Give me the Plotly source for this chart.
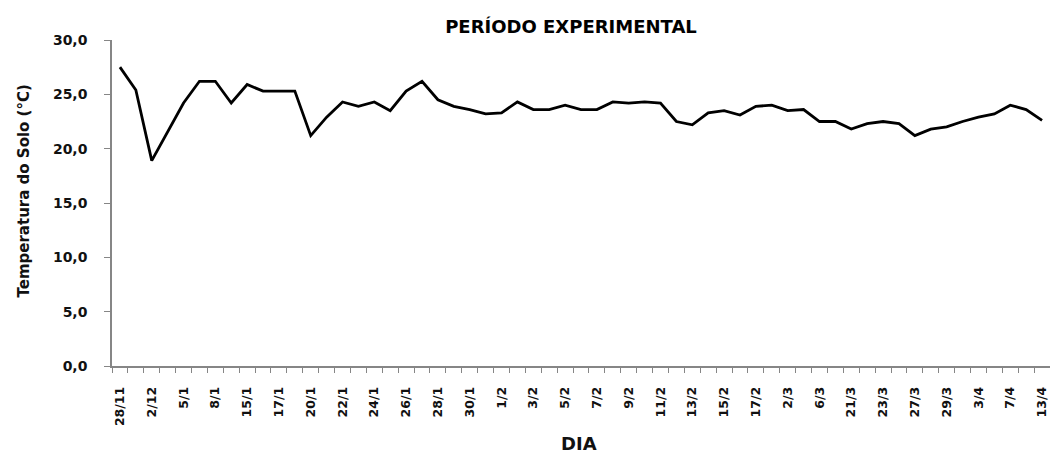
import plotly.graph_objects as go

# Soil temperature (°C) per observation day
temperatures = [27.5, 25.4, 18.9, 21.6, 24.2, 26.2, 26.2, 24.2, 25.9, 25.3, 25.3, 25.3,
                21.2, 22.9, 24.3, 23.9, 24.3, 23.5, 25.3, 26.2, 24.5, 23.9, 23.6, 23.2,
                23.3, 24.3, 23.6, 23.6, 24.0, 23.6, 23.6, 24.3, 24.2, 24.3, 24.2, 22.5,
                22.2, 23.3, 23.5, 23.1, 23.9, 24.0, 23.5, 23.6, 22.5, 22.5, 21.8, 22.3,
                22.5, 22.3, 21.2, 21.8, 22.0, 22.5, 22.9, 23.2, 24.0, 23.6, 22.6]

# Tick labels (shown on every other day)
tick_labels = ["28/11", "2/12", "5/1", "8/1", "15/1", "17/1", "20/1", "22/1", "24/1", "26/1",
               "28/1", "30/1", "1/2", "3/2", "5/2", "7/2", "9/2", "11/2", "13/2", "15/2",
               "17/2", "2/3", "6/3", "21/3", "23/3", "27/3", "29/3", "3/4", "7/4", "13/4"]

y_ticks = [0, 5, 10, 15, 20, 25, 30]

x_idx = list(range(len(temperatures)))
tick_pos = x_idx[::2]

AXIS = "#868686"
FONT = "DejaVu Sans"

fig = go.Figure()
fig.add_trace(go.Scatter(x=x_idx, y=temperatures, mode="lines",
                         line=dict(color="black", width=2.8), showlegend=False))

fig.update_layout(
    width=1050, height=454,
    margin=dict(l=112, r=0, t=40, b=88, autoexpand=False),
    plot_bgcolor="white", paper_bgcolor="white",
    separators=",.",
    title=dict(text="PERÍODO EXPERIMENTAL", x=571 / 1050, xref="container", xanchor="center",
               y=1 - 26.5 / 454, yref="container", yanchor="middle",
               font=dict(family=FONT, size=18, color="black", weight="bold")),
    xaxis=dict(range=[-0.5, len(temperatures) - 0.5], tickmode="array", tickvals=tick_pos,
               ticktext=tick_labels, tickangle=-90, ticks="", showgrid=False, zeroline=False,
               showline=True, linecolor=AXIS, linewidth=1.5, automargin=False,
               ticklabelstandoff=14,
               tickfont=dict(family=FONT, size=12.5, color="#111", weight="bold"),
               minor=dict(ticks="outside", tick0=-0.5, dtick=1, ticklen=5, tickcolor=AXIS,
                          tickwidth=1.2, showgrid=False)),
    yaxis=dict(range=[0, 30], tickmode="array", tickvals=y_ticks, tickformat=".1f",
               ticks="outside", ticklen=6, tickcolor=AXIS, tickwidth=1.2, automargin=False,
               showline=True, linecolor=AXIS, linewidth=1.5, showgrid=False, zeroline=False,
               ticklabelstandoff=14,
               tickfont=dict(family=FONT, size=14, color="#111", weight="bold")),
    annotations=[
        dict(text="DIA", xref="paper", yref="paper", x=(579 - 112) / 938, y=(366 - 443) / 326,
             xanchor="center", yanchor="middle", showarrow=False,
             font=dict(family=FONT, size=18, color="#111", weight="bold")),
        dict(text="Temperatura do Solo (°C)", xref="paper", yref="paper",
             x=(23 - 112) / 938, y=(366 - 191.5) / 326, textangle=-90,
             xanchor="center", yanchor="middle", showarrow=False,
             font=dict(family=FONT, size=15, color="#111", weight="bold")),
    ],
)

fig.write_html("out.html", config={"displayModeBar": False},
               post_script="document.body.style.margin='0';document.body.style.overflow='hidden';")
